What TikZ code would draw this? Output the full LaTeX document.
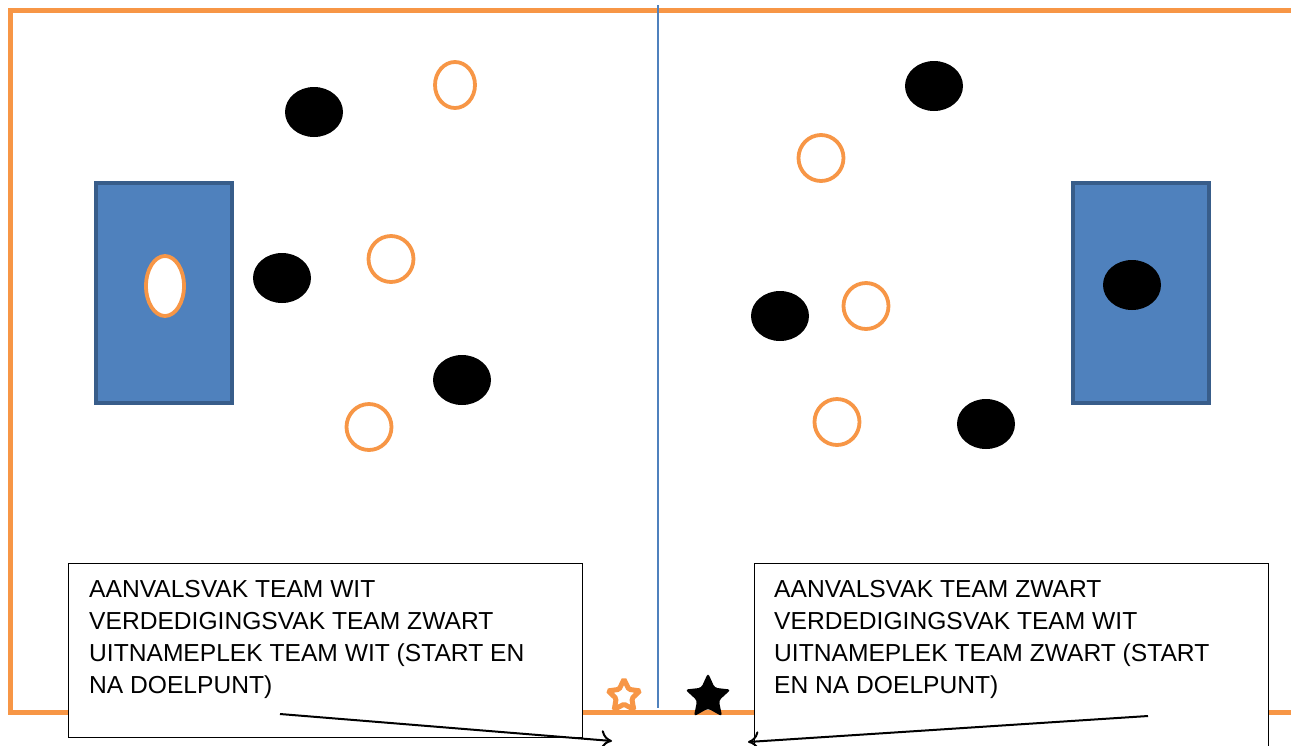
\documentclass[tikz,border=0pt]{standalone}
\usepackage{fontspec}
\setmainfont{Liberation Sans}
\usetikzlibrary{shapes.geometric,arrows.meta}
\definecolor{orng}{HTML}{F79646}
\definecolor{fieldblue}{HTML}{4F81BD}
\definecolor{darkblue}{HTML}{385D8A}
\tikzset{
  blackp/.style={ellipse,fill=black,draw=none,minimum width=58pt,minimum height=50pt,inner sep=0pt},
  whitep/.style={ellipse,fill=white,draw=orng,line width=3.8pt,minimum width=45pt,minimum height=46pt,inner sep=0pt},
  goalzone/.style={rectangle,fill=fieldblue,draw=darkblue,line width=4pt,minimum width=136pt,minimum height=220pt,inner sep=0pt},
  infobox/.style={rectangle,fill=white,draw=black,line width=0.8pt,inner sep=0pt,anchor=north west},
  infotext/.style={anchor=north west,inner sep=0pt,align=left,font=\fontsize{24.6pt}{32pt}\selectfont},
  pointer/.style={line width=2pt,-{To[length=11pt,width=20pt,line width=2pt]}}
}
\begin{document}
\begin{tikzpicture}[x=1pt,y=-1pt]
\useasboundingbox (0,0) rectangle (1291,745);
% field
\draw[orng,line width=5pt] (1291,10) -- (10,10) -- (10,712) -- (1291,712);
\draw[fieldblue,line width=1.5pt] (658,5) -- (658,708);
% goal zones
\node[goalzone] (lzone) at (164,293) {};
\node[goalzone] (rzone) at (1140.5,293) {};
% players left half
\node[whitep,minimum width=38pt,minimum height=60pt] (lkeeper) at (165,286) {};
\node[blackp] (lb1) at (314,112) {};
\node[blackp] (lb2) at (282,278) {};
\node[blackp] (lb3) at (462,380) {};
\node[whitep,minimum width=40pt] (lw1) at (455,85) {};
\node[whitep] (lw2) at (391,259) {};
\node[whitep] (lw3) at (369,427) {};
% players right half
\node[blackp] (rkeeper) at (1132,285) {};
\node[blackp] (rb1) at (934,86) {};
\node[blackp] (rb2) at (780,316) {};
\node[blackp] (rb3) at (986,424) {};
\node[whitep] (rw1) at (821,158) {};
\node[whitep] (rw2) at (866,306) {};
\node[whitep] (rw3) at (837,422) {};
% text boxes
\node[infobox,minimum width=514pt,minimum height=174pt] (lbox) at (68,563) {};
\node[infotext] (ltext) at (89,580) {AANVALSVAK TEAM WIT\\VERDEDIGINGSVAK TEAM ZWART\\UITNAMEPLEK TEAM WIT (START EN\\NA DOELPUNT)};
\node[infobox,minimum width=514pt,minimum height=200pt] (rbox) at (754,563) {};
\node[infotext] (rtext) at (774,580) {AANVALSVAK TEAM ZWART\\VERDEDIGINGSVAK TEAM WIT\\UITNAMEPLEK TEAM ZWART (START\\EN NA DOELPUNT)};
% stars
\node[star,star points=5,star point ratio=2.0,draw=orng,fill=white,line width=5pt,minimum size=33pt,inner sep=0pt,rounded corners=1.5pt] (wstar) at (624,696) {};
\node[star,star points=5,star point ratio=2.1,fill=black,minimum size=48pt,inner sep=0pt,rounded corners=3pt] (bstar) at (708,697) {};
% pointers
\coordinate (lstart) at (280,714);
\coordinate (lend) at (612,741);
\coordinate (rstart) at (1148,716);
\coordinate (rend) at (748,742);
\draw[pointer] (lstart) -- (lend);
\draw[pointer] (rstart) -- (rend);
\end{tikzpicture}
\end{document}
